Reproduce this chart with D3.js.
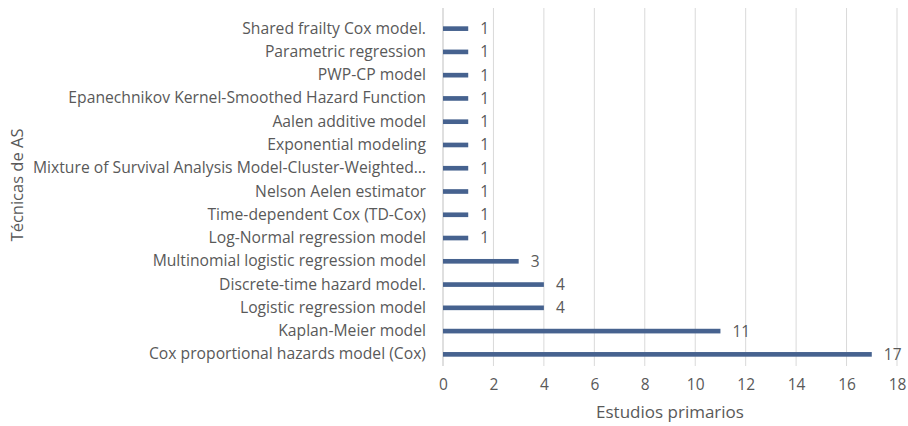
<!DOCTYPE html>
<html><head><meta charset="utf-8">
<script src="https://cdn.jsdelivr.net/npm/d3@7"></script>
<style>body{margin:0;background:#fff}svg{display:block}</style>
</head><body>
<script>
const categories = [
  "Shared frailty Cox model.",
  "Parametric regression",
  "PWP-CP model",
  "Epanechnikov Kernel-Smoothed Hazard Function",
  "Aalen additive model",
  "Exponential modeling",
  "Mixture of Survival Analysis Model-Cluster-Weighted…",
  "Nelson Aelen estimator",
  "Time-dependent Cox (TD-Cox)",
  "Log-Normal regression model",
  "Multinomial logistic regression model",
  "Discrete-time hazard model.",
  "Logistic regression model",
  "Kaplan-Meier model",
  "Cox proportional hazards model (Cox)"
];
const values = [1,1,1,1,1,1,1,1,1,1,3,4,4,11,17];
const xTicks = [0,2,4,6,8,10,12,14,16,18];
const xTitle = "Estudios primarios";
const yTitle = "Técnicas de AS";

const W = 908, H = 426;
const m = {left:443, right:11, top:17, bottom:60};
const font = "'Open Sans', sans-serif";
const textColor = "#595959";
const svg = d3.select("body").append("svg").attr("width",W).attr("height",H);

const x = d3.scaleLinear().domain([0,18]).range([m.left, W-m.right]);
const y = d3.scaleBand().domain(categories).range([m.top, H-m.bottom]).paddingInner(0.8).paddingOuter(0.4);

// gridlines
svg.append("g").selectAll("line").data(xTicks).join("line")
  .attr("x1",d=>x(d)).attr("x2",d=>x(d))
  .attr("y1",m.top-9).attr("y2",H-m.bottom)
  .attr("stroke",d=>d===0?"#bfbfbf":"#d9d9d9").attr("stroke-width",1);

// x axis
const xa = svg.append("g").attr("transform",`translate(0,${H-m.bottom})`)
  .call(d3.axisBottom(x).tickValues(xTicks).tickSize(0).tickPadding(13));
xa.select(".domain").remove();
xa.selectAll("text").attr("font-family",font).attr("font-size",15.5).attr("fill",textColor);

// y axis labels
const ya = svg.append("g").attr("transform",`translate(${m.left},0)`)
  .call(d3.axisLeft(y).tickSize(0).tickPadding(17));
ya.select(".domain").remove();
ya.selectAll("text").attr("font-family",font).attr("font-size",15.7).attr("fill",textColor);

// bars
svg.append("g").selectAll("rect").data(categories).join("rect")
  .attr("x",x(0)).attr("y",d=>y(d))
  .attr("width",(d,i)=>x(values[i])-x(0)).attr("height",y.bandwidth())
  .attr("fill","#46628f");

// value labels
svg.append("g").selectAll("text").data(categories).join("text")
  .attr("x",(d,i)=>x(values[i])+12).attr("y",d=>y(d)+y.bandwidth()/2)
  .attr("dy","0.35em").attr("font-family",font).attr("font-size",15.5).attr("fill",textColor)
  .text((d,i)=>values[i]);

// titles
svg.append("text").attr("x",(x(0)+x(18))/2).attr("y",H-8)
  .attr("text-anchor","middle").attr("font-family",font).attr("font-size",17).attr("fill",textColor)
  .text(xTitle);
svg.append("text").attr("transform",`translate(23,185) rotate(-90)`)
  .attr("text-anchor","middle").attr("font-family",font).attr("font-size",16.5).attr("fill",textColor)
  .text(yTitle);
</script>
</body></html>
